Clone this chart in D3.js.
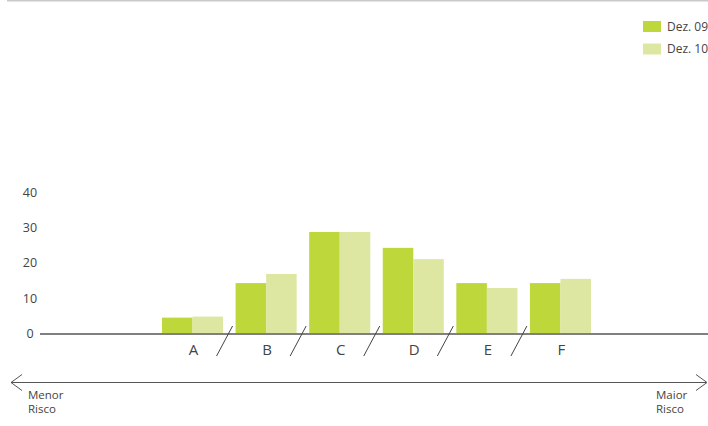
<!DOCTYPE html>
<html><head><meta charset="utf-8">
<script src="https://cdn.jsdelivr.net/npm/d3@7"></script>
<style>body{margin:0;background:#fff}svg{display:block}text{font-family:"Open Sans",sans-serif;fill:#444}</style>
</head><body><svg id="c" width="708" height="426"></svg>
<script>
const categories = ["A","B","C","D","E","F"];
const seriesNames = ["Dez. 09","Dez. 10"];
const dez09 = [4.5, 14.3, 28.8, 24.3, 14.3, 14.3];
const dez10 = [4.8, 16.9, 28.8, 21.1, 12.9, 15.5];
const yTicks = [0, 10, 20, 30, 40];
const colors = ["#bed73b", "#dde7a1"];

const svg = d3.select("#c");
const x = d3.scaleBand().domain(categories).range([162, 591]).paddingInner(0.17).paddingOuter(0);
const xs = d3.scaleBand().domain(seriesNames).range([0, x.bandwidth()]).padding(0);
const y = d3.scaleLinear().domain([0, 40]).range([333.5, 192.5]);

// top rule
svg.append("rect").attr("x", 7).attr("y", 0).attr("width", 701).attr("height", 1.5).attr("fill", "#c9c9c9");

// y tick labels
svg.append("g").selectAll("text").data(yTicks).join("text")
  .attr("x", 30).attr("y", d => y(d)).attr("dy", "0.35em")
  .attr("text-anchor", "middle").attr("font-size", 12.5).text(d => d);

// bars
const series = [dez09, dez10];
series.forEach((vals, si) => {
  svg.append("g").selectAll("rect").data(categories).join("rect")
    .attr("x", c => x(c) + xs(seriesNames[si]))
    .attr("y", (c, i) => y(vals[i]))
    .attr("width", xs.bandwidth())
    .attr("height", (c, i) => y(0) - y(vals[i]))
    .attr("fill", colors[si]);
});

// baseline
svg.append("line").attr("x1", 40).attr("x2", 708).attr("y1", y(0) + 0.5).attr("y2", y(0) + 0.5)
  .attr("stroke", "#808080").attr("stroke-width", 2);

// category labels
svg.append("g").selectAll("text").data(categories).join("text")
  .attr("x", c => x(c) + x.bandwidth() / 2 + 1).attr("y", 355)
  .attr("text-anchor", "middle").attr("font-size", 15).text(c => c);

// separators
svg.append("g").selectAll("line").data(categories.slice(0, -1)).join("line")
  .attr("x1", c => x(c) + x.bandwidth() + 1.5 + 8)
  .attr("x2", c => x(c) + x.bandwidth() + 1.5 - 8)
  .attr("y1", 326).attr("y2", 356)
  .attr("stroke", "#444").attr("stroke-width", 1);

// arrow
const ay = 382.5;
svg.append("line").attr("x1", 11).attr("x2", 706).attr("y1", ay).attr("y2", ay).attr("stroke", "#555").attr("stroke-width", 1);
svg.append("path").attr("d", `M22,${ay-8} L11,${ay} L22,${ay+8}`).attr("fill", "none").attr("stroke", "#555");
svg.append("path").attr("d", `M696,${ay-8} L707,${ay} L696,${ay+8}`).attr("fill", "none").attr("stroke", "#555");

const lt = svg.append("text").attr("font-size", 11.5);
lt.append("tspan").attr("x", 28).attr("y", 399).text("Menor");
lt.append("tspan").attr("x", 28).attr("y", 413).text("Risco");
const rt = svg.append("text").attr("font-size", 11.5);
rt.append("tspan").attr("x", 656).attr("y", 399).text("Maior");
rt.append("tspan").attr("x", 656).attr("y", 413).text("Risco");

// legend
const lg = svg.append("g").selectAll("g").data(seriesNames).join("g")
  .attr("transform", (d, i) => `translate(643,${21 + i * 22.5})`);
lg.append("rect").attr("width", 18).attr("height", 11).attr("fill", (d, i) => colors[i]);
lg.append("text").attr("x", 24).attr("y", 9.5).attr("font-size", 12).text(d => d);
</script></body></html>
